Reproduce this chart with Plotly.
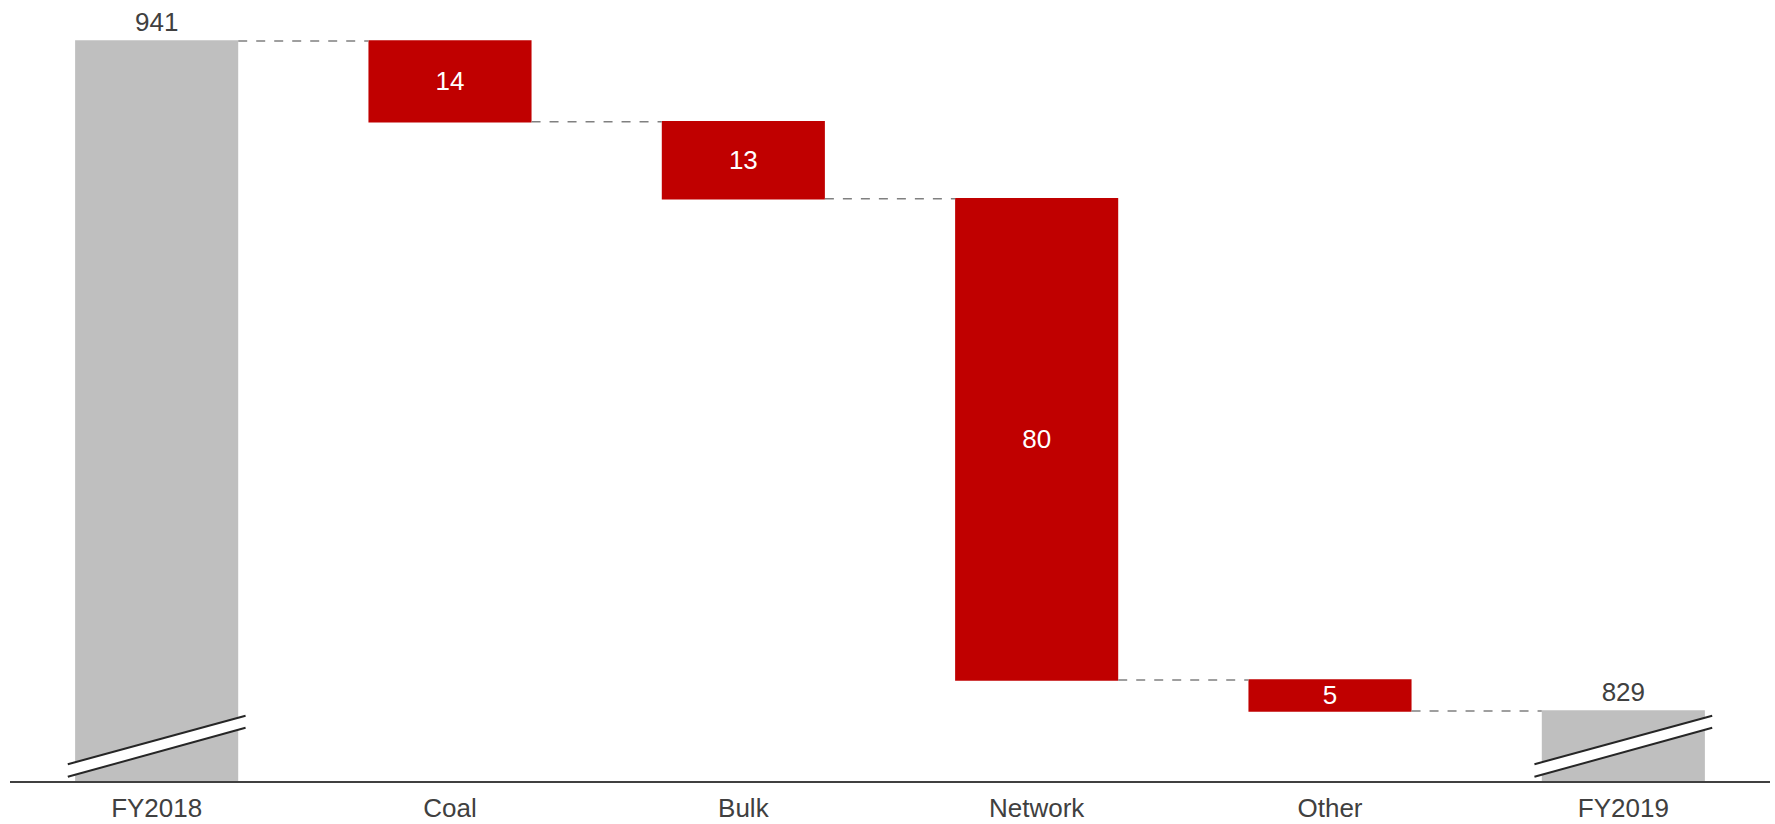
import plotly.graph_objects as go

categories = ["FY2018", "Coal", "Bulk", "Network", "Other", "FY2019"]
measures = ["absolute", "relative", "relative", "relative", "relative", "total"]
values = [941, -13.5, -12.9, -80.4, -5.2, 829]
labels = ["941", "14", "13", "80", "5", "829"]
text_pos = ["outside", "inside", "inside", "inside", "inside", "outside"]

RED = "#C00000"
GREY = "#BFBFBF"
TXT = "#404040"
FONT = "Liberation Sans, Arial, sans-serif"

y_range = [817.3, 947.0]
bar_width = 0.556

fig = go.Figure(go.Waterfall(
    x=categories, y=values, measure=measures,
    text=labels, textposition=text_pos,
    insidetextfont=dict(color="white", size=26, family=FONT),
    outsidetextfont=dict(color=TXT, size=26, family=FONT),
    textangle=0,
    constraintext="none",
    decreasing=dict(marker=dict(color=RED, line=dict(width=0))),
    increasing=dict(marker=dict(color=RED, line=dict(width=0))),
    totals=dict(marker=dict(color=GREY, line=dict(width=0))),
    connector=dict(line=dict(color="#808080", width=1.5, dash="dash"), mode="between"),
    width=bar_width,
    insidetextanchor="middle",
))

# axis-break markers on the grey (truncated) bars
shapes = []
half = 0.303
for i, m in enumerate(measures):
    if m in ("absolute", "total"):
        x0, x1 = i - half, i + half
        yu0, yu1 = 820.1, 828.2
        yl0, yl1 = 818.0, 826.2
        shapes.append(dict(type="path", xref="x", yref="y",
                           path=f"M {x0},{yu0} L {x1},{yu1} L {x1},{yl1} L {x0},{yl0} Z",
                           fillcolor="white", line=dict(width=0), layer="above"))
        for (a, b) in ((yu0, yu1), (yl0, yl1)):
            shapes.append(dict(type="line", xref="x", yref="y", x0=x0, x1=x1, y0=a, y1=b,
                               line=dict(color="#262626", width=2), layer="above"))

fig.update_layout(
    width=1775, height=824,
    margin=dict(l=10, r=5, t=5, b=43),
    paper_bgcolor="white", plot_bgcolor="white",
    showlegend=False,
    font=dict(family=FONT, color=TXT, size=26),
    shapes=shapes,
    xaxis=dict(showline=True, linecolor="#404040", linewidth=1.5, showgrid=False,
               ticks="", ticklabelstandoff=3, automargin=False,
               tickfont=dict(size=26, color=TXT, family=FONT)),
    yaxis=dict(range=y_range, visible=False, showgrid=False, zeroline=False,
               automargin=False),
)

fig.write_html("out.html")
